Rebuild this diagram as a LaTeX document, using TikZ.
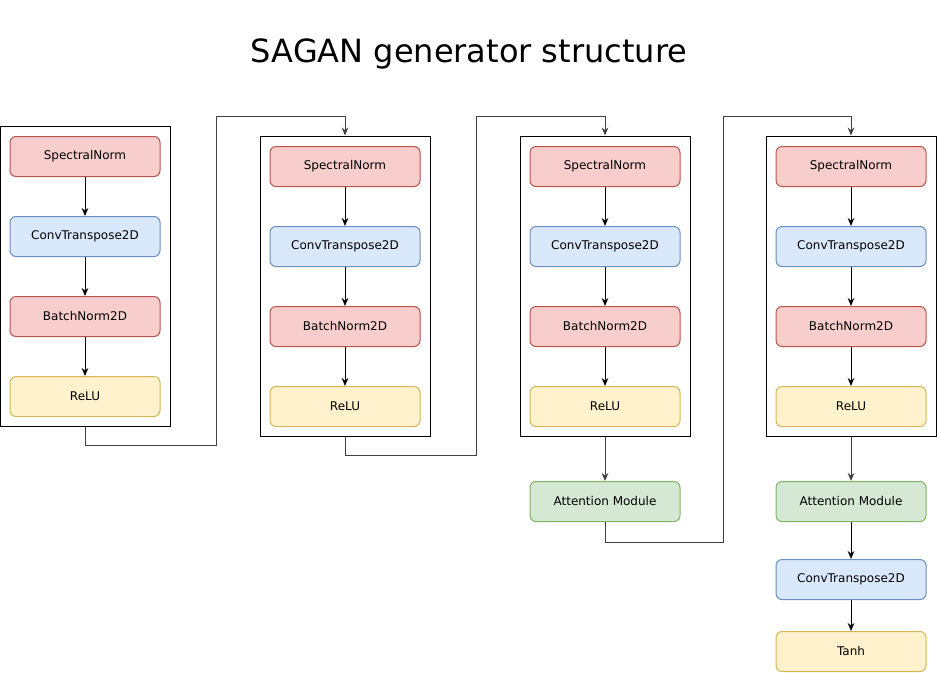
\documentclass[tikz,border=0pt]{standalone}
\usepackage{fontspec}
\setmainfont{DejaVu Sans}
\usetikzlibrary{arrows.meta}
\definecolor{rf}{HTML}{F8CECC}\definecolor{rs}{HTML}{B85450}
\definecolor{bf}{HTML}{DAE8FC}\definecolor{bs}{HTML}{6C8EBF}
\definecolor{yf}{HTML}{FFF2CC}\definecolor{ys}{HTML}{D6B656}
\definecolor{gf}{HTML}{D5E8D4}\definecolor{gs}{HTML}{82B366}
\tikzset{
  blk/.style={draw, rounded corners=4.5pt, minimum width=112.5pt, minimum height=30pt, inner sep=0pt, line width=0.75pt, font=\fontsize{9}{11}\selectfont},
  red/.style={blk, fill=rf, draw=rs},
  blue/.style={blk, fill=bf, draw=bs},
  yel/.style={blk, fill=yf, draw=ys},
  grn/.style={blk, fill=gf, draw=gs},
  cont/.style={draw=black, line width=0.75pt, minimum width=127.5pt, minimum height=225pt, inner sep=0pt},
  arr/.style={line width=0.75pt, -{Stealth[length=6pt,width=5pt]}},
  link/.style={line width=0.75pt, draw=black!75, -{Stealth[length=6pt,width=5pt]}},
}
\begin{document}
\begin{tikzpicture}[x=0.75pt,y=-0.75pt]
\useasboundingbox (0,0) rectangle (938,672);
\node[font=\fontsize{24}{29}\selectfont] (title) at (469,54) {SAGAN generator structure};
% column 1
\node[cont] (c1) at (85,276) {};
\node[red] (s1) at (85,156.5) {SpectralNorm};
\node[blue] (t1) at (85,236.5) {ConvTranspose2D};
\node[red] (b1) at (85,316.5) {BatchNorm2D};
\node[yel] (r1) at (85,396.5) {ReLU};
% column 2
\node[cont] (c2) at (345,286) {};
\node[red] (s2) at (345,166.5) {SpectralNorm};
\node[blue] (t2) at (345,246.5) {ConvTranspose2D};
\node[red] (b2) at (345,326.5) {BatchNorm2D};
\node[yel] (r2) at (345,406.5) {ReLU};
% column 3
\node[cont] (c3) at (605,286) {};
\node[red] (s3) at (605,166.5) {SpectralNorm};
\node[blue] (t3) at (605,246.5) {ConvTranspose2D};
\node[red] (b3) at (605,326.5) {BatchNorm2D};
\node[yel] (r3) at (605,406.5) {ReLU};
\node[grn] (a3) at (605,501.5) {Attention Module};
% column 4
\node[cont] (c4) at (851,286) {};
\node[red] (s4) at (851,166.5) {SpectralNorm};
\node[blue] (t4) at (851,246.5) {ConvTranspose2D};
\node[red] (b4) at (851,326.5) {BatchNorm2D};
\node[yel] (r4) at (851,406.5) {ReLU};
\node[grn] (a4) at (851,501.5) {Attention Module};
\node[blue] (t5) at (851,579.5) {ConvTranspose2D};
\node[yel] (h5) at (851,651.5) {Tanh};
% inner arrows
\foreach \i in {1,2,3,4}{
  \draw[arr] (s\i) -- (t\i);
  \draw[arr] (t\i) -- (b\i);
  \draw[arr] (b\i) -- (r\i);
}
\draw[link] (c3.south) -- (a3.north);
\draw[link] (c4.south) -- (a4.north);
\draw[arr] (a4) -- (t5);
\draw[arr] (t5) -- (h5);
% links between columns
\draw[link] (c1.south) -- ++(0,19) -| (216,116) -| (c2.north);
\draw[link] (c2.south) -- ++(0,19) -| (476,116) -| (c3.north);
\draw[link] (a3.south) -- ++(0,20) -| (723,116) -| (c4.north);
\end{tikzpicture}
\end{document}
